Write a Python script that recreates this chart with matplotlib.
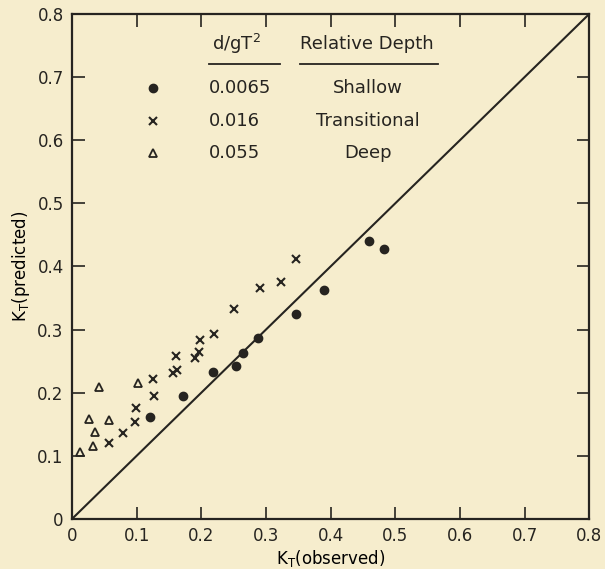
import numpy as np
import matplotlib
matplotlib.use("Agg")
import matplotlib.pyplot as plt

# Shallow (d/gT^2 = 0.0065)
shallow_x = [0.121, 0.172, 0.218, 0.254, 0.265, 0.288, 0.347, 0.390, 0.460, 0.483]
shallow_y = [0.162, 0.194, 0.233, 0.243, 0.263, 0.287, 0.325, 0.363, 0.441, 0.428]

# Transitional (d/gT^2 = 0.016)
trans_x = [0.057, 0.079, 0.098, 0.099, 0.125, 0.127, 0.156, 0.162, 0.161, 0.190,
           0.197, 0.198, 0.219, 0.250, 0.290, 0.324, 0.347]
trans_y = [0.120, 0.136, 0.154, 0.176, 0.221, 0.194, 0.231, 0.236, 0.258, 0.255,
           0.265, 0.284, 0.293, 0.333, 0.366, 0.376, 0.412]

# Deep (d/gT^2 = 0.055)
deep_x = [0.013, 0.027, 0.033, 0.036, 0.042, 0.057, 0.102]
deep_y = [0.106, 0.158, 0.116, 0.138, 0.209, 0.156, 0.216]

legend_vals = ["0.0065", "0.016", "0.055"]
legend_names = ["Shallow", "Transitional", "Deep"]

bg = "#f6edcd"
ink = "#262420"

plt.rcParams.update({
    "font.family": "DejaVu Sans",
    "text.color": ink,
    "axes.edgecolor": ink,
    "xtick.color": ink,
    "ytick.color": ink,
})

fig = plt.figure(figsize=(6.05, 5.69), dpi=100, facecolor=bg)
ax = fig.add_axes([0.119, 0.088, 0.855, 0.8875])
ax.set_facecolor(bg)

ax.plot([0, 0.8], [0, 0.8], color=ink, lw=1.5)

ax.plot(shallow_x, shallow_y, "o", color=ink, ms=6, ls="none")
ax.plot(trans_x, trans_y, "x", color=ink, ms=6, mew=1.5, ls="none")
ax.plot(deep_x, deep_y, "^", mfc="none", mec=ink, ms=6, mew=1.3, ls="none")

ax.set_xlim(0, 0.8)
ax.set_ylim(0, 0.8)
ticks = np.arange(0, 0.81, 0.1)
labels = ["0"] + ["%.1f" % t for t in ticks[1:]]
ax.set_xticks(ticks)
ax.set_xticklabels(labels)
ax.set_yticks(ticks)
ax.set_yticklabels(labels)
ax.tick_params(direction="in", length=9, width=1.2, top=True, right=True,
               labelsize=12, pad=6)
for s in ax.spines.values():
    s.set_linewidth(1.6)

ax.set_xlabel(r"K$_\mathrm{T}$(observed)", fontsize=12, labelpad=2)
ax.set_ylabel(r"K$_\mathrm{T}$(predicted)", fontsize=12, labelpad=4)

# legend table
ax.text(0.217, 0.752, r"d/gT$^2$", fontsize=13, ha="left", va="center")
ax.text(0.352, 0.752, "Relative Depth", fontsize=13, ha="left", va="center")
ax.plot([0.212, 0.322], [0.721, 0.721], color=ink, lw=1.3)
ax.plot([0.352, 0.566], [0.721, 0.721], color=ink, lw=1.3)

rows_y = [0.683, 0.630, 0.579]
ax.plot([0.125], [rows_y[0]], "o", color=ink, ms=6)
ax.plot([0.125], [rows_y[1]], "x", color=ink, ms=6, mew=1.5)
ax.plot([0.125], [rows_y[2]], "^", mfc="none", mec=ink, ms=6, mew=1.3)
for y, v, n in zip(rows_y, legend_vals, legend_names):
    ax.text(0.212, y, v, fontsize=13, ha="left", va="center")
    ax.text(0.458, y, n, fontsize=13, ha="center", va="center")

fig.savefig("out.png", dpi=100, facecolor=bg)
